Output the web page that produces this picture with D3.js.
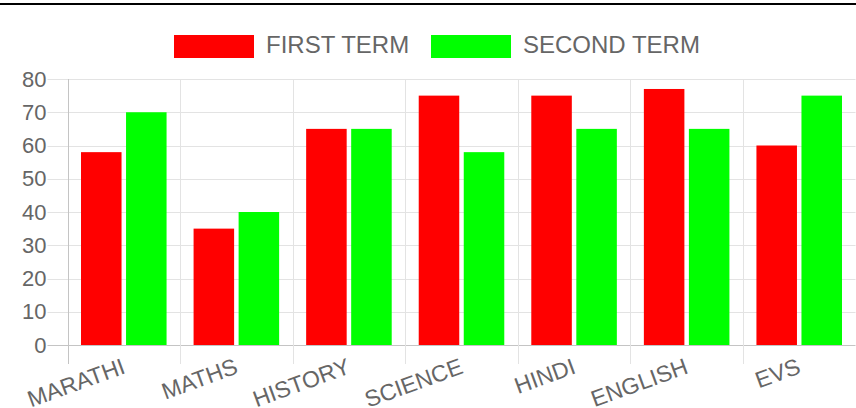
<!DOCTYPE html>
<html>
<head>
<meta charset="utf-8">
<script src="https://cdn.jsdelivr.net/npm/d3@7"></script>
<style>
  body { margin: 0; background: #fff; }
  svg { display: block; }
  text { font-family: "Liberation Sans", Arial, sans-serif; fill: #666; }
</style>
</head>
<body>
<div id="chart"></div>
<script>
const subjects = ['MARATHI', 'MATHS', 'HISTORY', 'SCIENCE', 'HINDI', 'ENGLISH', 'EVS'];
const seriesNames = ['FIRST TERM', 'SECOND TERM'];
const seriesColors = ['#ff0000', '#00ff00'];
const firstTerm = [58, 35, 65, 75, 75, 77, 60];
const secondTerm = [70, 40, 65, 58, 65, 65, 75];
const yTicks = [0, 10, 20, 30, 40, 50, 60, 70, 80];

const width = 856;
const height = 408;
const margin = { top: 79, right: 0.5, bottom: 63, left: 67.5 };
const gridColor = '#e3e3e3';
const axisColor = '#c4c4c4';

const values = [firstTerm, secondTerm];

const svg = d3.select('#chart').append('svg')
  .attr('width', width)
  .attr('height', height);

// black rule across the top
svg.append('rect')
  .attr('x', 0).attr('y', 3)
  .attr('width', width).attr('height', 2)
  .attr('fill', '#000');

const scaleX = d3.scaleBand()
  .domain(subjects)
  .range([margin.left, width - margin.right])
  .padding(0);

const scaleInner = d3.scaleBand()
  .domain(seriesNames)
  .range([scaleX.bandwidth() * 0.1, scaleX.bandwidth() * 0.9])
  .paddingInner(0.1)
  .paddingOuter(0.05);

const scaleY = d3.scaleLinear()
  .domain([0, 80])
  .range([height - margin.bottom, margin.top]);

const x0 = margin.left;
const x1 = width - margin.right;
const yBottom = height - margin.bottom;

// horizontal grid (with short tick extension to the left)
const groupGrid = svg.append('g').attr('class', 'grid');
groupGrid.selectAll('line.h')
  .data(yTicks)
  .enter()
  .append('line')
  .attr('class', 'h')
  .attr('x1', x0 - 20)
  .attr('x2', x1)
  .attr('y1', d => Math.round(scaleY(d)) + 0.5)
  .attr('y2', d => Math.round(scaleY(d)) + 0.5)
  .attr('stroke', d => d === 0 ? axisColor : gridColor)
  .attr('stroke-width', 1);

// vertical grid at category boundaries
const boundaries = subjects.map(s => scaleX(s)).concat([x1]);
groupGrid.selectAll('line.v')
  .data(boundaries)
  .enter()
  .append('line')
  .attr('class', 'v')
  .attr('x1', d => Math.round(d) + 0.5)
  .attr('x2', d => Math.round(d) + 0.5)
  .attr('y1', margin.top)
  .attr('y2', yBottom + 19)
  .attr('stroke', (d, i) => i === 0 ? axisColor : gridColor)
  .attr('stroke-width', 1);

// bars
const groupBars = svg.append('g').attr('class', 'bars');
seriesNames.forEach((name, si) => {
  groupBars.selectAll(`rect.s${si}`)
    .data(subjects)
    .enter()
    .append('rect')
    .attr('class', `s${si}`)
    .attr('x', d => scaleX(d) + scaleInner(name))
    .attr('width', scaleInner.bandwidth())
    .attr('y', (d, i) => scaleY(values[si][i]))
    .attr('height', (d, i) => yBottom - scaleY(values[si][i]))
    .attr('fill', seriesColors[si]);
});

// y axis labels
const axisY = d3.axisLeft(scaleY)
  .tickValues(yTicks)
  .tickSize(0)
  .tickPadding(21);

const groupAxisY = svg.append('g')
  .attr('transform', `translate(${x0}, 0)`)
  .call(axisY);
groupAxisY.select('.domain').remove();
groupAxisY.selectAll('text')
  .attr('font-size', 22)
  .attr('fill', '#666')
  .style('font-family', '"Liberation Sans", Arial, sans-serif');

// x axis labels, rotated
svg.append('g').selectAll('text')
  .data(subjects)
  .enter()
  .append('text')
  .attr('transform', d => `translate(${scaleX(d) + scaleX.bandwidth() / 2}, ${yBottom + 20}) rotate(-20)`)
  .attr('text-anchor', 'end')
  .attr('dy', '0.36em')
  .attr('font-size', 23)
  .text(d => d);

// legend
const legendItems = [
  { name: seriesNames[0], color: seriesColors[0], x: 174 },
  { name: seriesNames[1], color: seriesColors[1], x: 431 }
];
const groupLegend = svg.append('g').attr('class', 'legend');
legendItems.forEach(item => {
  groupLegend.append('rect')
    .attr('x', item.x)
    .attr('y', 35)
    .attr('width', 80)
    .attr('height', 23)
    .attr('fill', item.color);
  groupLegend.append('text')
    .attr('x', item.x + 92)
    .attr('y', 53)
    .attr('font-size', 24)
    .text(item.name);
});
</script>
</body>
</html>
